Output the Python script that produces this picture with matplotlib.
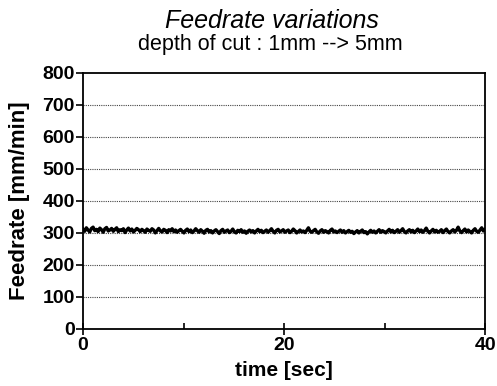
import numpy as np
import matplotlib
matplotlib.use("Agg")
import matplotlib.pyplot as plt
from matplotlib.ticker import MultipleLocator

feedrate = [
    312, 305, 316, 309, 303, 314, 318, 307, 311, 304, 315, 310, 302, 313, 317, 306, 309, 314, 305, 311,
    316, 304, 310, 307, 313, 301, 309, 315, 306, 312, 303, 308, 314, 310, 304, 311, 307, 302, 312, 308,
    305, 313, 309, 300, 307, 314, 306, 303, 311, 308, 301, 310, 306, 313, 304, 309, 302, 307, 311, 305,
    300, 308, 312, 304, 309, 301, 306, 313, 307, 302, 310, 305, 299, 308, 311, 303, 307, 300, 306, 310,
    304, 298, 307, 311, 302, 306, 309, 301, 305, 312, 303, 300, 308, 304, 310, 302, 306, 299, 305, 309,
    303, 307, 300, 306, 311, 304, 308, 301, 305, 309, 302, 307, 313, 305, 300, 308, 311, 303, 306, 310,
    302, 306, 309, 301, 305, 312, 307, 300, 304, 309, 303, 306, 301, 308, 316, 305, 302, 307, 311, 303,
    299, 306, 310, 302, 307, 304, 300, 308, 312, 303, 306, 301, 305, 309, 302, 307, 300, 304, 308, 302,
    305, 298, 303, 307, 300, 305, 309, 301, 304, 297, 303, 308, 302, 306, 300, 305, 310, 302, 307, 304,
    300, 306, 311, 303, 308, 301, 305, 310, 302, 307, 313, 304, 300, 306, 310, 303, 308, 301, 306, 312,
    304, 309, 302, 307, 315, 305, 300, 306, 311, 303, 308, 302, 305, 310, 301, 307, 312, 304, 300, 306,
    310, 303, 308, 318, 306, 301, 307, 312, 303, 309, 304, 300, 308, 313, 305, 302, 309, 316, 306, 311,
]
t_start, t_end = 0, 40
time = np.linspace(t_start, t_end, len(feedrate))

y_ticks = [0, 100, 200, 300, 400, 500, 600, 700, 800]
x_ticks = [0, 20, 40]

plt.rcParams['font.family'] = ['Liberation Sans', 'DejaVu Sans']

fig = plt.figure(figsize=(4.97, 3.86), dpi=100)
ax = fig.add_axes([0.167, 0.148, 0.809, 0.663])

for yv in y_ticks[1:-1]:
    ax.axhline(yv, color='#444444', lw=0.8, ls=(0, (1, 1)), zorder=1)

ax.plot(time, feedrate, color='black', lw=2.4, zorder=3)

ax.set_xlim(0, 40)
ax.set_ylim(0, 800)
ax.set_xticks(x_ticks)
ax.xaxis.set_minor_locator(MultipleLocator(10))
ax.set_yticks(y_ticks)

for s in ax.spines.values():
    s.set_linewidth(1.3)

ax.tick_params(axis='y', direction='out', length=5, width=1.2, labelsize=14, pad=1)
ax.tick_params(axis='x', which='major', direction='inout', length=8, width=1.2, labelsize=14, pad=2)
ax.tick_params(axis='x', which='minor', direction='in', length=4, width=1.2)
for lab in ax.get_xticklabels() + ax.get_yticklabels():
    lab.set_fontweight('bold')

ax.set_xlabel('time [sec]', fontsize=15, fontweight='bold', labelpad=5)
ax.set_ylabel('Feedrate [mm/min]', fontsize=16, fontweight='bold', labelpad=9)

fig.text(0.547, 0.927, 'Feedrate variations', ha='center', va='baseline', fontsize=18, style='italic')
fig.text(0.543, 0.870, 'depth of cut : 1mm --> 5mm', ha='center', va='baseline', fontsize=15.5)

fig.savefig('out.png', dpi=100)
